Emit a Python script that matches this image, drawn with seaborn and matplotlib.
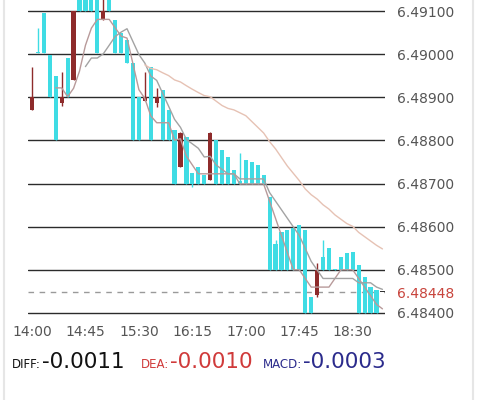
import numpy as np
import pandas as pd
import matplotlib
matplotlib.use("Agg")
import matplotlib.pyplot as plt
from matplotlib.lines import Line2D
import seaborn as sns

# ---------------- data ----------------
opens = [6.48870, 6.49006, 6.49095, 6.48998, 6.48949, 6.48887, 6.48991, 6.48940, 6.49130, 6.49130,
         6.49130, 6.49130, 6.49079, 6.49130, 6.49079, 6.49049, 6.49033, 6.48980, 6.48901, 6.48892,
         6.48970, 6.48887, 6.48917, 6.48871, 6.48824, 6.48738, 6.48808, 6.48724, 6.48738, 6.48720,
         6.48708, 6.48801, 6.48778, 6.48762, 6.48731, 6.48705, 6.48755, 6.48750, 6.48743, 6.48720,
         6.48669, 6.48560, 6.48588, 6.48592, 6.48597, 6.48604, 6.48592, 6.48437, 6.48442, 6.48530,
         6.48551, 6.48503, 6.48530, 6.48539, 6.48541, 6.48511, 6.48483, 6.48460, 6.48453, 6.48448]
closes = [6.48901, 6.49003, 6.49003, 6.48901, 6.48801, 6.48901, 6.48901, 6.49100, 6.49100, 6.49100,
          6.49100, 6.49003, 6.49100, 6.49100, 6.49003, 6.49003, 6.48980, 6.48801, 6.48801, 6.48901,
          6.48801, 6.48901, 6.48801, 6.48801, 6.48699, 6.48817, 6.48699, 6.48699, 6.48699, 6.48699,
          6.48817, 6.48699, 6.48699, 6.48699, 6.48699, 6.48699, 6.48699, 6.48699, 6.48699, 6.48699,
          6.48500, 6.48500, 6.48500, 6.48500, 6.48500, 6.48500, 6.48400, 6.48400, 6.48500, 6.48500,
          6.48500, 6.48500, 6.48500, 6.48500, 6.48500, 6.48400, 6.48400, 6.48400, 6.48400, 6.48448]
nan = np.nan
highs = [6.48970, 6.49061, nan, nan, nan, 6.48959, nan, nan, nan, nan,
         nan, nan, 6.49130, nan, nan, nan, nan, nan, nan, 6.48959,
         nan, 6.48922, nan, nan, nan, 6.48820, nan, nan, nan, nan,
         6.48820, nan, nan, nan, nan, 6.48771, nan, nan, nan, nan,
         nan, 6.48569, nan, nan, nan, nan, nan, nan, 6.48516, 6.48569,
         nan, nan, nan, nan, nan, nan, nan, nan, nan, nan]
lows = [nan, nan, nan, nan, nan, 6.48880, nan, nan, nan, nan,
        nan, nan, nan, nan, nan, nan, nan, nan, nan, nan,
        nan, 6.48878, nan, nan, nan, nan, nan, 6.48692, nan, nan,
        nan, nan, nan, nan, nan, nan, nan, nan, nan, nan,
        nan, nan, nan, nan, nan, nan, nan, nan, 6.48437, nan,
        nan, nan, nan, nan, nan, nan, nan, nan, nan, nan]

time_labels = ["14:00", "14:45", "15:30", "16:15", "17:00", "17:45", "18:30"]
price_levels = [6.48400, 6.48500, 6.48600, 6.48700, 6.48800, 6.48900, 6.49000, 6.49100]
ma_windows = [5, 10, 30]

macd_names = ["DIFF:", "DEA:", "MACD:"]
macd_values = ["-0.0011", "-0.0010", "-0.0003"]

# ---------------- style ----------------
sns.set_theme(style="white")
plt.rcParams["font.family"] = ["DejaVu Sans"]

UP = "#8E2B2B"
DOWN = "#3FDCE4"
FLAT = "#333333"
ma_colors = {"MA5": "#B89A9A", "MA10": "#A3A3A3", "MA30": "#E6C2B4"}

o = np.array(opens)
c = np.array(closes)
h = np.fmax(np.array(highs), np.maximum(o, c))
l = np.fmin(np.array(lows), np.minimum(o, c))
idx = np.arange(len(o))

fig = plt.figure(figsize=(4.8, 4.0), dpi=100)
ax = fig.add_axes([28 / 480, 1 - 316 / 400, (385 - 28) / 480, 316 / 400])
ax.set_ylim(6.48393, 6.491255)
ax.set_xlim(-0.67, 59.43)

# grid lines
for v in price_levels:
    ax.axhline(v, color="#2b2b2b", lw=1.0, zorder=1)

# candles
cols = [UP if cc > oo else (DOWN if cc < oo else FLAT) for oo, cc in zip(o, c)]
body_bottom = np.minimum(o, c)
body_h = np.maximum(np.abs(c - o), 0.00003)
ax.vlines(idx, l, h, colors=cols, lw=1.0, zorder=2)
ax.bar(idx, body_h, bottom=body_bottom, width=0.7, color=cols, linewidth=0, zorder=2)

# moving averages
cs = pd.Series(c)
ma_frames = []
for w in ma_windows:
    mp = w if w < 30 else 20
    ma_frames.append(pd.DataFrame({"i": idx, "value": cs.rolling(w, min_periods=mp).mean(),
                                   "ma": f"MA{w}"}))
ma_df = pd.concat(ma_frames).dropna()
sns.lineplot(data=ma_df, x="i", y="value", hue="ma", palette=ma_colors, legend=False,
             linewidth=1.0, ax=ax, zorder=3)

# last price dashed line
last = closes[-1]
ax.axhline(last, color="#9a9a9a", lw=1.0, ls=(0, (4, 4)), zorder=1)

# axes styling
for s in ax.spines.values():
    s.set_visible(False)
ax.set_xlabel("")
ax.set_ylabel("")
ax.yaxis.tick_right()
yt = price_levels + [last]
ax.set_yticks(yt)
ax.set_yticklabels([f"{v:.5f}" for v in yt])
ax.tick_params(axis="y", length=0, pad=8.5, labelsize=10, labelcolor="#555555")
ax.get_yticklabels()[-1].set_color("#C8443C")
ax.set_xticks(np.arange(len(time_labels)) * 9)
ax.set_xticklabels(time_labels)
ax.tick_params(axis="x", length=0, pad=6.5, labelsize=10, labelcolor="#555555")

# light frame lines
fig.add_artist(Line2D([4 / 480, 4 / 480], [0, 1], color="#e6e6e6", lw=1.5, transform=fig.transFigure))
fig.add_artist(Line2D([473 / 480, 473 / 480], [0, 1], color="#e6e6e6", lw=1.5, transform=fig.transFigure))

# MACD readout
macd_colors = ["#111111", "#D03A3A", "#2B2B8C"]
val_x = [42, 170, 303]
base_y = 1 - 368 / 400
for n, v, col, vx in zip(macd_names, macd_values, macd_colors, val_x):
    fig.text((vx - 1) / 480, base_y, n, fontsize=8.5, color=col, va="baseline", ha="right")
    fig.text(vx / 480, base_y, v, fontsize=15.5, color=col, va="baseline", ha="left")

fig.savefig("out.png", dpi=100, facecolor="white")
